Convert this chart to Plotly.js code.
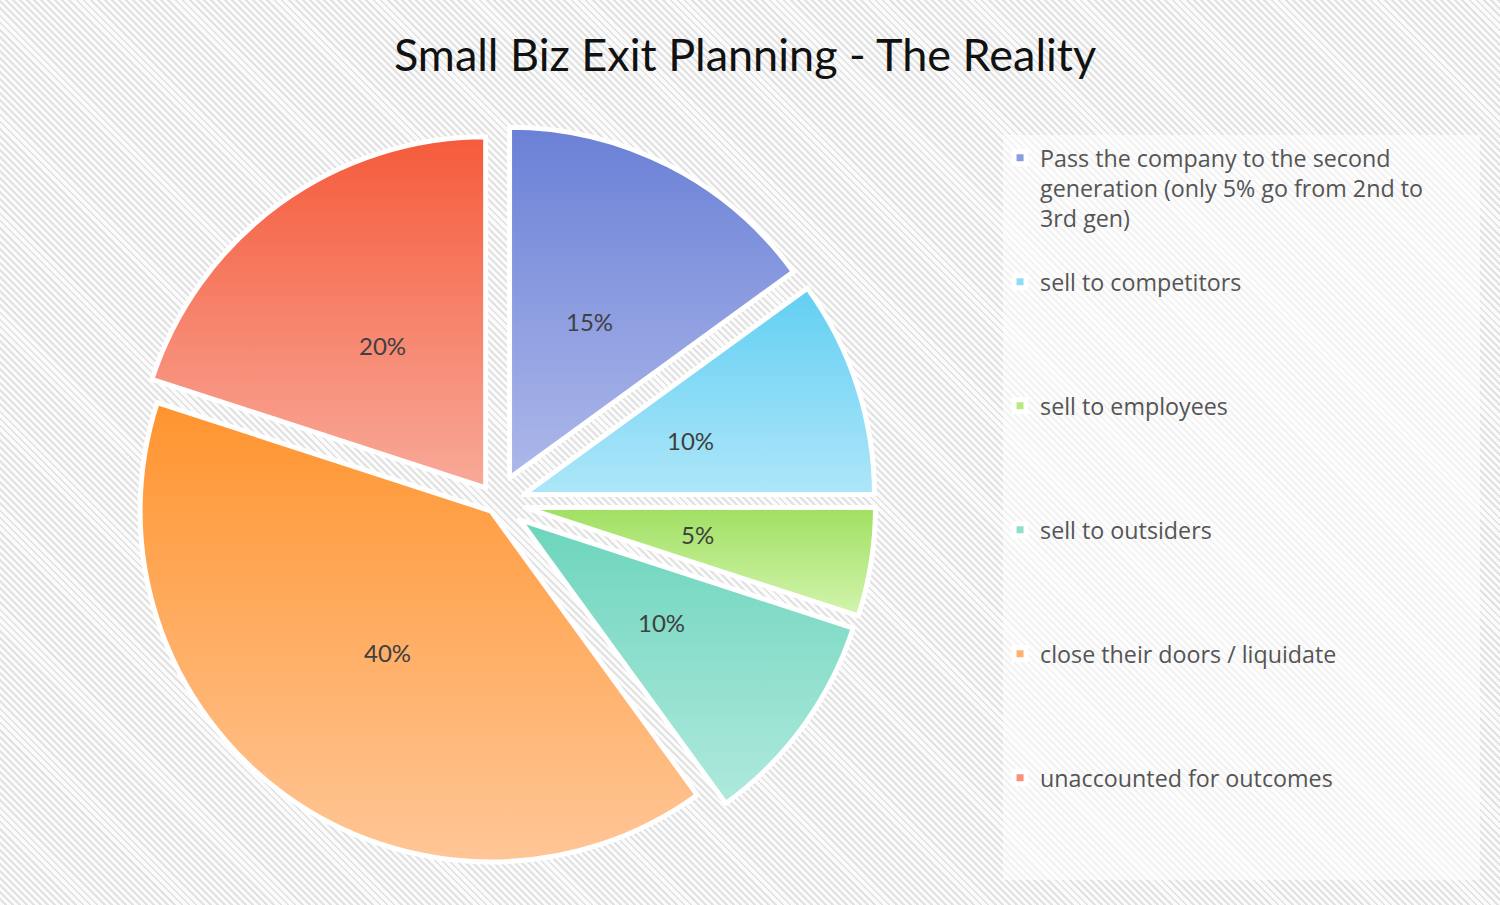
<!DOCTYPE html>
<html>
<head>
<meta charset="utf-8">
<script src="https://cdn.plot.ly/plotly-3.0.1.min.js"></script>
<style>
  html, body { margin: 0; padding: 0; }
  body {
    width: 1500px; height: 905px; overflow: hidden;
    background: repeating-linear-gradient(45deg, #fbfbfb 0px, #fbfbfb 3px, #e2e2e2 3px, #e2e2e2 5px);
  }
  #chart { width: 1500px; height: 905px; }
</style>
</head>
<body>
<div id="chart"></div>
<script>
// ---- data ----
var labels = [
  "Pass the company to the second generation (only 5% go from 2nd to 3rd gen)",
  "sell to competitors",
  "sell to employees",
  "sell to outsiders",
  "close their doors / liquidate",
  "unaccounted for outcomes"
];
var legendLabels = [
  "Pass the company to the second<br>generation (only 5% go from 2nd to<br>3rd gen)",
  "sell to competitors",
  "sell to employees",
  "sell to outsiders",
  "close their doors / liquidate",
  "unaccounted for outcomes"
];
var values = [15, 10, 5, 10, 40, 20];

// ---- styles ----
var colors = ["#8A9BE0", "#8FDCF5", "#B8EA82", "#8EDFCC", "#FFB06E", "#F8907A"];
var gradTop = ["#6A80D6", "#62CFF3", "#A0E062", "#6CD5BC", "#FF942E", "#F55B3B"];
var gradBottom = ["#ADB8EA", "#AEE6F9", "#D3F4AE", "#AFE9DD", "#FFC697", "#F8A999"];
var pulls = [0.08, 0.08, 0.08, 0.08, 0.028, 0.054];

// pad each legend entry to the same number of lines so entries are evenly spaced
var LINES = 4;
var legendText = legendLabels.map(function (t) {
  var n = t.split("<br>").length;
  var s = t;
  for (var i = n; i < LINES; i++) s += "<br> ";
  return s;
});

var total = values.reduce(function (a, b) { return a + b; }, 0);

var trace = {
  type: "pie",
  labels: legendText,
  values: values,
  sort: false,
  direction: "clockwise",
  rotation: 0,
  pull: pulls,
  textinfo: "none",
  hoverinfo: "skip",
  marker: { colors: colors, line: { color: "#ffffff", width: 5 } },
  domain: { x: [0.0785, 0.5839], y: [0.0253, 0.8629] }
};

var layout = {
  width: 1500, height: 905,
  margin: { l: 0, r: 0, t: 0, b: 0 },
  paper_bgcolor: "rgba(0,0,0,0)",
  plot_bgcolor: "rgba(0,0,0,0)",
  font: { family: "Lato, 'Open Sans', sans-serif", color: "#595959" },
  title: {
    text: "Small Biz Exit Planning - The Reality",
    x: 0.4967, xref: "paper", xanchor: "center",
    y: 0.939, yref: "paper", yanchor: "middle",
    font: { family: "Lato, 'Open Sans', sans-serif", size: 45, color: "#111111" }
  },
  showlegend: true,
  legend: {
    x: 0.6667, xanchor: "left",
    y: 1 - 136 / 905, yanchor: "top",
    valign: "top",
    bgcolor: "rgba(0,0,0,0)",
    font: { family: "'Open Sans', Lato, sans-serif", size: 23.27, color: "#555555" },
    traceorder: "normal"
  },
  shapes: [{
    type: "rect", xref: "paper", yref: "paper", layer: "below",
    x0: 1003 / 1500, x1: 1480 / 1500, y0: 1 - 880 / 905, y1: 1 - 135 / 905,
    fillcolor: "rgba(255,255,255,0.55)", line: { width: 0 }
  }]
};

function applyGradients(gd) {
  var svg = gd.querySelector("svg.main-svg");
  if (!svg) return;
  var defs = svg.querySelector("defs");
  var NS = "http://www.w3.org/2000/svg";
  if (!defs) { defs = document.createElementNS(NS, "defs"); svg.insertBefore(defs, svg.firstChild); }
  var slices = gd.querySelectorAll(".pielayer .slice");
  slices.forEach(function (sl, idx) {
    var d = sl.__data__;
    var i = (d && d.i !== undefined) ? d.i : idx;
    var id = "slicegrad" + i;
    if (!defs.querySelector("#" + id)) {
      var g = document.createElementNS(NS, "linearGradient");
      g.setAttribute("id", id);
      g.setAttribute("x1", "0"); g.setAttribute("y1", "0");
      g.setAttribute("x2", "0"); g.setAttribute("y2", "1");
      var s1 = document.createElementNS(NS, "stop");
      s1.setAttribute("offset", "0"); s1.setAttribute("stop-color", gradTop[i]);
      var s2 = document.createElementNS(NS, "stop");
      s2.setAttribute("offset", "1"); s2.setAttribute("stop-color", gradBottom[i]);
      g.appendChild(s1); g.appendChild(s2);
      defs.appendChild(g);
    }
    var p = sl.querySelector("path.surface");
    if (p) p.style.fill = "url(#" + id + ")";
  });
}

var gd = document.getElementById("chart");
Plotly.newPlot(gd, [trace], layout, { staticPlot: true, displayModeBar: false }).then(function (gd) {
  var cd = gd.calcdata[0];
  var cd0 = cd[0];
  var gs = gd._fullLayout._size;
  var ann = [];
  for (var i = 0; i < cd.length; i++) {
    var pt = cd[i];
    var k = (pulls[pt.i] || 0) + 0.5;
    var px = cd0.cx + k * cd0.r * Math.sin(pt.midangle);
    var py = cd0.cy - k * cd0.r * Math.cos(pt.midangle);
    ann.push({
      xref: "paper", yref: "paper",
      x: (px - gs.l) / gs.w, y: 1 - (py - gs.t) / gs.h,
      xanchor: "center", yanchor: "middle",
      text: Math.round(values[pt.i] / total * 100) + "%",
      showarrow: false,
      font: { family: "Lato, 'Open Sans', sans-serif", size: 24, color: "#404040" }
    });
  }
  return Plotly.relayout(gd, { annotations: ann });
}).then(function (gd) {
  applyGradients(gd);
});
</script>
</body>
</html>
